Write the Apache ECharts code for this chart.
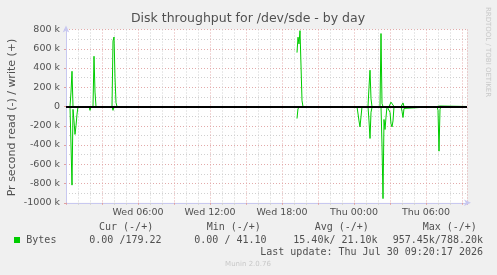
<!DOCTYPE html>
<html><head><meta charset="utf-8">
<script src="https://cdn.jsdelivr.net/npm/echarts@6/dist/echarts.min.js"></script>
<style>html,body{margin:0;padding:0;background:#f0f0f0}#c{width:497px;height:275px}</style>
</head><body><div id="c"></div>
<script>
const title = 'Disk throughput for /dev/sde - by day';
const yAxisName = 'Pr second read (-) / write (+)';
const stepMinutes = 5; // munin 5-minute samples, counted from Wed 00:00
const writeSteps = [1,4,5,6,7,27,28,29,30,46,47,48,49,50,51,229,230,231,232,233,234,235,236,237,277,278,279,302,303,304,305,306,314,315,316,317,323,324,325,326,327,328,335,336,337,338,371,372,373,374,375,400];
const writeK     = [0,0,150,366,0,0,522,150,0,0,680,722,300,40,0,0,null,560,720,650,788,770,60,0,0,10,0,0,200,377,80,0,0,758,30,0,0,20,45,48,30,0,0,20,37,0,0,15,20,5,0,0.18];
const readSteps  = [1,4,5,6,7,8,9,10,11,12,23,24,25,46,47,48,229,230,231,232,233,234,235,291,293,294,295,296,302,303,304,305,306,307,315,316,317,318,319,320,321,323,324,325,326,327,328,335,336,337,338,339,371,372,373,374,375,400];
const readK      = [0,0,-400,-817,-30,-150,-290,-200,-80,0,0,-40,0,0,-40,0,0,null,-125,-20,-10,-20,0,0,-150,-212,-200,0,0,-150,-332,-60,-10,0,0,-400,-957,-135,-239,-110,0,0,-60,-180,-212,-150,0,0,-50,-114,-20,0,0,-40,-464,-30,0,0];
const xTickHours  = [6, 12, 18, 24, 30];
const xTickLabels = ['Wed 06:00','Wed 12:00','Wed 18:00','Thu 00:00','Thu 06:00'];
const yMin = -1000, yMax = 800, yStep = 200;
const seriesName = 'Bytes';
const legendHeaders = ['Cur (-/+)','Min (-/+)','Avg (-/+)','Max (-/+)'];
const legendValues  = ['0.00 /179.22','0.00 / 41.10','15.40k/ 21.10k','957.45k/788.20k'];
const lastUpdate = 'Last update: Thu Jul 30 09:20:17 2026';
const footer = 'Munin 2.0.76';
const watermark = 'RRDTOOL / TOBI OETIKER';

const toPts = (steps, vals) => steps.map((s, i) => [s * stepMinutes / 60, vals[i] === null ? '-' : vals[i]]);
const xMaxHours = 401 * stepMinutes / 60;

const mono = '10px "DejaVu Sans Mono"';
const txtCol = '#505050';
const graphic = [
  {type:'text', style:{text:title, x:248, y:19, align:'center', verticalAlign:'middle', font:'12.5px "DejaVu Sans"', fill:txtCol}},
  {type:'text', rotation:Math.PI/2, x:12, y:117.5, style:{text:yAxisName, x:0, y:0, align:'center', verticalAlign:'middle', font:'11px "DejaVu Sans"', fill:txtCol}},
  {type:'text', rotation:-Math.PI/2, x:488, y:52, style:{text:watermark, x:0, y:0, align:'center', verticalAlign:'middle', font:'7px "DejaVu Sans"', fill:'#c8c8c8'}},
  {type:'rect', shape:{x:14, y:237, width:6, height:6}, style:{fill:'#00cc00'}},
  {type:'text', style:{text:seriesName, x:26.3, y:240, align:'left', verticalAlign:'middle', font:mono, fill:txtCol}},
  {type:'text', style:{text:lastUpdate, x:483, y:252, align:'right', verticalAlign:'middle', font:mono, fill:txtCol}},
  {type:'text', style:{text:footer, x:248, y:264, align:'center', verticalAlign:'middle', font:'7px "DejaVu Sans"', fill:'#c8c8c8'}}
];
const hdrX = [99, 206.7, 314.7, 422.7];
const valX = [89.3, 194.3, 293.3, 392.7];
legendHeaders.forEach((h, i) => graphic.push({type:'text', style:{text:h, x:hdrX[i], y:227.5, align:'left', verticalAlign:'middle', font:mono, fill:txtCol}}));
legendValues.forEach((v, i) => graphic.push({type:'text', style:{text:v, x:valX[i], y:240, align:'left', verticalAlign:'middle', font:mono, fill:txtCol}}));

const axisCol = '#c8c8f0';
const green = '#00cc00';
const chart = echarts.init(document.getElementById('c'), null, {renderer:'canvas'});
chart.setOption({
  animation:false,
  backgroundColor:'#f0f0f0',
  grid:{left:66, right:30, top:29.5, bottom:72.25, show:true, backgroundColor:'#ffffff', borderWidth:0},
  xAxis:{
    type:'value', min:0, max:xMaxHours, interval:3,
    axisLine:{show:true, onZero:false, lineStyle:{color:axisCol, width:1}, symbol:['none','arrow'], symbolSize:[5,7], symbolOffset:[0,4]},
    axisTick:{show:true, length:2, lineStyle:{color:'#e0a0a0'}},
    minorTick:{show:true, splitNumber:3, length:2, lineStyle:{color:'#d0d0d0'}},
    axisLabel:{margin:5, fontFamily:'DejaVu Sans', fontSize:9.5, color:txtCol,
      formatter:(v) => { const i = xTickHours.findIndex(h => Math.abs(h - v) < 1e-6); return i >= 0 ? xTickLabels[i] : ''; }},
    splitLine:{show:true, lineStyle:{color:'#e3aaaa', type:[1,2], width:1}},
    minorSplitLine:{show:true, lineStyle:{color:'#d0d0d0', type:[1,2], width:1}}
  },
  yAxis:{
    type:'value', min:yMin, max:yMax, interval:yStep,
    axisLine:{show:true, onZero:false, lineStyle:{color:axisCol, width:1}, symbol:['none','arrow'], symbolSize:[5,7], symbolOffset:[0,4]},
    axisTick:{show:true, length:2, lineStyle:{color:'#e0a0a0'}},
    minorTick:{show:false, splitNumber:2},
    axisLabel:{margin:6, fontFamily:'DejaVu Sans', fontSize:9.5, color:txtCol,
      formatter:(v) => v === 0 ? '0' : v + ' k'},
    splitLine:{show:true, lineStyle:{color:'#e3aaaa', type:[1,2], width:1}},
    minorSplitLine:{show:true, lineStyle:{color:'#d0d0d0', type:[1,2], width:1}}
  },
  series:[
    {type:'line', name:seriesName+' read', data:toPts(readSteps, readK), symbol:'none', connectNulls:false, z:2,
      lineStyle:{color:green, width:1}, itemStyle:{color:green}},
    {type:'line', name:seriesName+' write', data:toPts(writeSteps, writeK), symbol:'none', connectNulls:false, z:2,
      lineStyle:{color:green, width:1}, itemStyle:{color:green}},
    {type:'line', name:'zero', data:[], z:10,
      markLine:{silent:true, z:10, symbol:'none', label:{show:false}, lineStyle:{color:'#000000', width:1.8, type:'solid'}, data:[{yAxis:0}]}}
  ],
  graphic:graphic
});
</script></body></html>
